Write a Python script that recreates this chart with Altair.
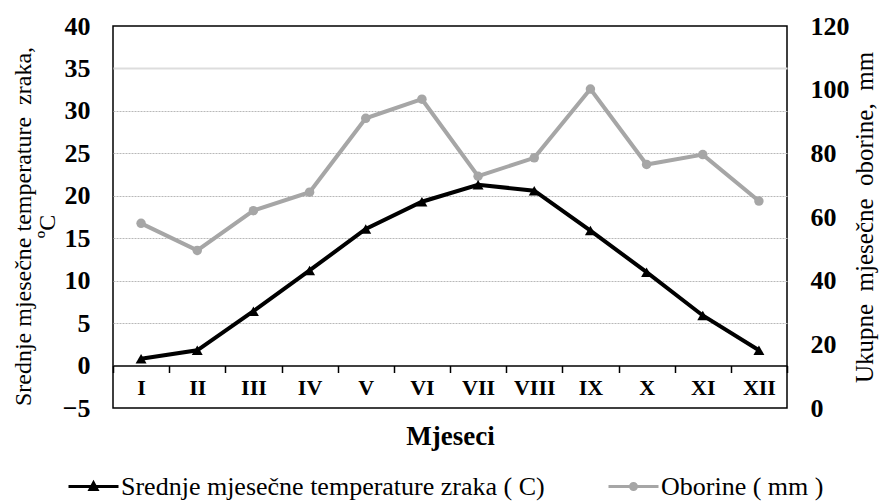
import altair as alt
import pandas as pd

months = ["I", "II", "III", "IV", "V", "VI", "VII", "VIII", "IX", "X", "XI", "XII"]
temperature = [0.8, 1.8, 6.4, 11.2, 16.1, 19.3, 21.3, 20.6, 15.9, 11.0, 5.9, 1.8]
precipitation = [58.0, 49.5, 62.0, 67.8, 91.0, 97.0, 72.8, 78.6, 100.2, 76.5, 79.6, 65.0]
temp_label = "Srednje mjesečne temperature zraka ( C)"
prec_label = "Oborine ( mm )"
temp_ticks = list(range(-5, 41, 5))
prec_ticks = list(range(0, 121, 20))

df = pd.DataFrame({
    "month": months,
    "temp": temperature,
    "prec": precipitation,
    "tl": [temp_label] * len(months),
    "pl": [prec_label] * len(months),
})

FONT = "Liberation Serif"
GRAY = "#a6a6a6"

x_enc = alt.X(
    "month:N",
    sort=months,
    scale=alt.Scale(type="band", paddingInner=0, paddingOuter=0),
    axis=alt.Axis(
        title="Mjeseci",
        offset=-42.5,
        tickBand="extent",
        labelAngle=0,
        labelFont=FONT,
        labelFontSize=22,
        labelFontWeight="bold",
        labelColor="black",
        labelPadding=5,
        domainColor="black",
        domainWidth=1.5,
        tickColor="black",
        tickWidth=1.5,
        tickSize=7,
        titleFont=FONT,
        titleFontSize=27,
        titleFontWeight="bold",
        titleColor="black",
        titleY=71,
        titleBaseline="middle",
        grid=False,
    ),
)

legend_common = dict(
    title=None,
    orient="none",
    legendY=434,
    symbolSize=2500,
    symbolStrokeWidth=3,
    labelFont=FONT,
    labelFontSize=26,
    labelColor="black",
    labelLimit=800,
    labelOffset=1,
)

temp_color = alt.Color(
    "tl:N",
    scale=alt.Scale(domain=[temp_label], range=["black"]),
    legend=alt.Legend(
        legendX=-46,
        symbolType="M-1,0H1M-0.14,0.12L0,-0.14L0.14,0.12Z",
        symbolFillColor="black",
        symbolStrokeColor="black",
        **legend_common,
    ),
)

prec_color = alt.Color(
    "pl:N",
    scale=alt.Scale(domain=[prec_label], range=[GRAY]),
    legend=alt.Legend(
        legendX=494,
        symbolType="M-1,0H1M0.12,0A0.12,0.12,0,1,1,-0.12,0A0.12,0.12,0,1,1,0.12,0Z",
        symbolFillColor=GRAY,
        symbolStrokeColor=GRAY,
        **legend_common,
    ),
)

temp_y = alt.Y(
    "temp:Q",
    scale=alt.Scale(domain=[-5, 40], nice=False, zero=False),
    axis=alt.Axis(
        orient="left",
        values=temp_ticks,
        grid=True,
        gridColor={"condition": {"test": "datum.value === 35", "value": "#dddddd"}, "value": "#b8b8b8"},
        gridWidth={"condition": {"test": "datum.value === 35", "value": 2}, "value": 1},
        gridDash={"condition": {"test": "datum.value === 35", "value": []}, "value": [2, 1]},
        gridOpacity={"condition": {"test": "datum.value <= 0 || datum.value >= 40", "value": 0}, "value": 1},
        domain=False,
        ticks=False,
        labelFont=FONT,
        labelFontSize=26,
        labelFontWeight="bold",
        labelColor="black",
        labelPadding=23,
        title=["Srednje mjesečne temperature\u00a0\u00a0zraka,", "ºC"],
        titleFont=FONT,
        titleFontSize=24,
        titleFontWeight="normal",
        titleColor="black",
        titlePadding=3,
        titleLineHeight=24,
        titleY=200,
    ),
)

prec_y = alt.Y(
    "prec:Q",
    scale=alt.Scale(domain=[0, 120], nice=False),
    axis=alt.Axis(
        orient="right",
        values=prec_ticks,
        grid=False,
        domain=False,
        ticks=False,
        labelFont=FONT,
        labelFontSize=26,
        labelFontWeight="bold",
        labelColor="black",
        labelPadding=23,
        title="Ukupne\u00a0\u00a0mjesečne\u00a0\u00a0oborine,\u00a0\u00a0mm",
        titleFont=FONT,
        titleFontSize=25,
        titleFontWeight="normal",
        titleColor="black",
        titleAngle=270,
        titlePadding=28,
    ),
)

base = alt.Chart(df)

temp_layer = alt.layer(
    base.mark_line(strokeWidth=4).encode(x=x_enc, y=temp_y, color=temp_color),
    base.mark_point(shape="triangle-up", filled=True, size=120, opacity=1).encode(
        x=x_enc, y=temp_y, color=alt.value("black")
    ),
)

prec_layer = alt.layer(
    base.mark_line(strokeWidth=4).encode(x=x_enc, y=prec_y, color=prec_color),
    base.mark_point(shape="circle", filled=True, size=90, opacity=1).encode(
        x=x_enc, y=prec_y, color=alt.value(GRAY)
    ),
)

chart = (
    alt.layer(prec_layer, temp_layer)
    .resolve_scale(y="independent", color="independent")
    .properties(
        width=674,
        height=382,
        autosize=alt.AutoSizeParams(type="none"),
        padding={"left": 105, "top": 18, "right": 94, "bottom": 94},
        background="white",
    )
    .configure_view(stroke="black", strokeWidth=1.5)
)

chart.save("out.html", embed_options={"renderer": "svg", "actions": False})
